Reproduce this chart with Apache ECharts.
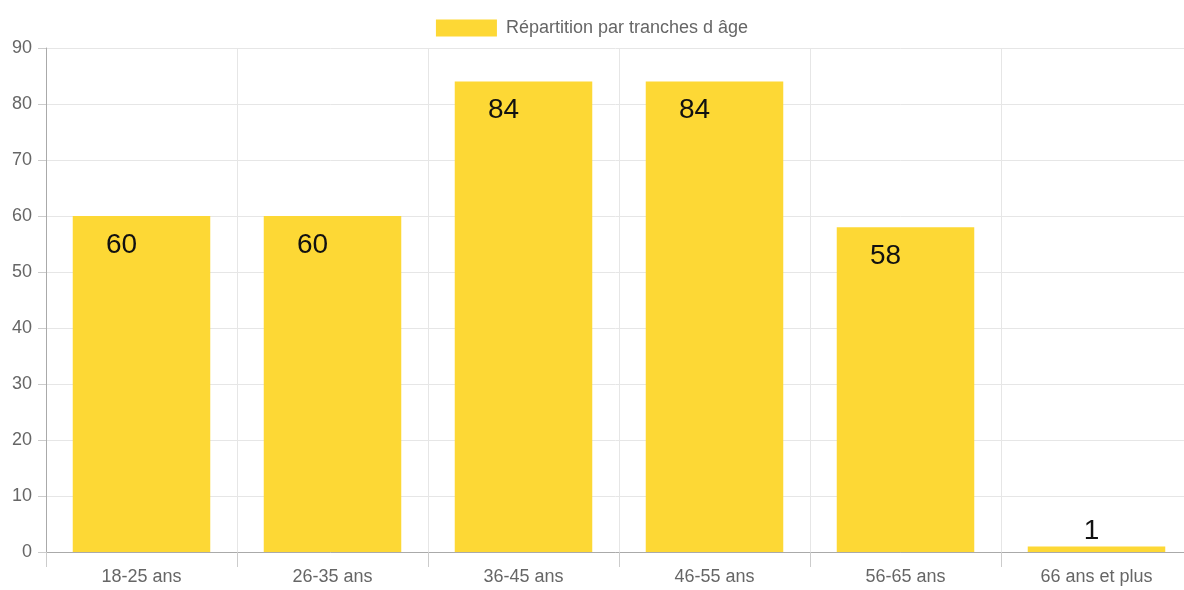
<!DOCTYPE html>
<html><head><meta charset="utf-8">
<script src="https://cdn.jsdelivr.net/npm/echarts@6/dist/echarts.min.js"></script>
<style>html,body{margin:0;padding:0;background:#fff}#c{width:1184px;height:590px}</style>
</head><body><div id="c"></div>
<script>
const categories = ['18-25 ans','26-35 ans','36-45 ans','46-55 ans','56-65 ans','66 ans et plus'];
const values = [60, 60, 84, 84, 58, 1];
const seriesName = 'Répartition par tranches d âge';
const yTicks = {min: 0, max: 90, interval: 10};

const chart = echarts.init(document.getElementById('c'));
const font = 'Liberation Sans, Arial, Helvetica, sans-serif';
chart.setOption({
  animation: false,
  textStyle: {fontFamily: font},
  legend: {
    top: 14, left: 'center',
    icon: 'rect',
    itemWidth: 61, itemHeight: 17, itemGap: 10,
    textStyle: {color: '#666', fontSize: 18, fontFamily: font, padding: [0, 0, 0, 4]},
    data: [seriesName]
  },
  grid: {left: 46, top: 48, width: 1146, height: 504, containLabel: false, outerBoundsMode: 'none'},
  xAxis: {
    type: 'category', data: categories,
    axisLine: {show: true, lineStyle: {color: '#aaa'}},
    axisTick: {show: true, length: 15, alignWithLabel: false, lineStyle: {color: '#ccc'}},
    axisLabel: {color: '#666', fontSize: 18, margin: 16, fontFamily: font},
    splitLine: {show: true, lineStyle: {color: '#e6e6e6'}}
  },
  yAxis: {
    type: 'value', min: yTicks.min, max: yTicks.max, interval: yTicks.interval,
    axisLine: {show: true, lineStyle: {color: '#aaa'}},
    axisTick: {show: true, length: 8, lineStyle: {color: '#ccc'}},
    axisLabel: {color: '#666', fontSize: 18, margin: 14, fontFamily: font},
    splitLine: {show: true, lineStyle: {color: '#e6e6e6'}}
  },
  series: [{
    name: seriesName, type: 'bar', barWidth: '72%',
    itemStyle: {color: '#FDD835'},
    data: values.map(v => v < 5 ? {
      value: v,
      label: {show: true, position: 'top', distance: 1, offset: [-5, 0], color: '#111', fontSize: 28, fontFamily: font}
    } : v),
    label: {show: true, position: 'insideTop', distance: 5, offset: [-20, 10], color: '#111', fontSize: 28, fontFamily: font}
  }]
});
</script></body></html>
